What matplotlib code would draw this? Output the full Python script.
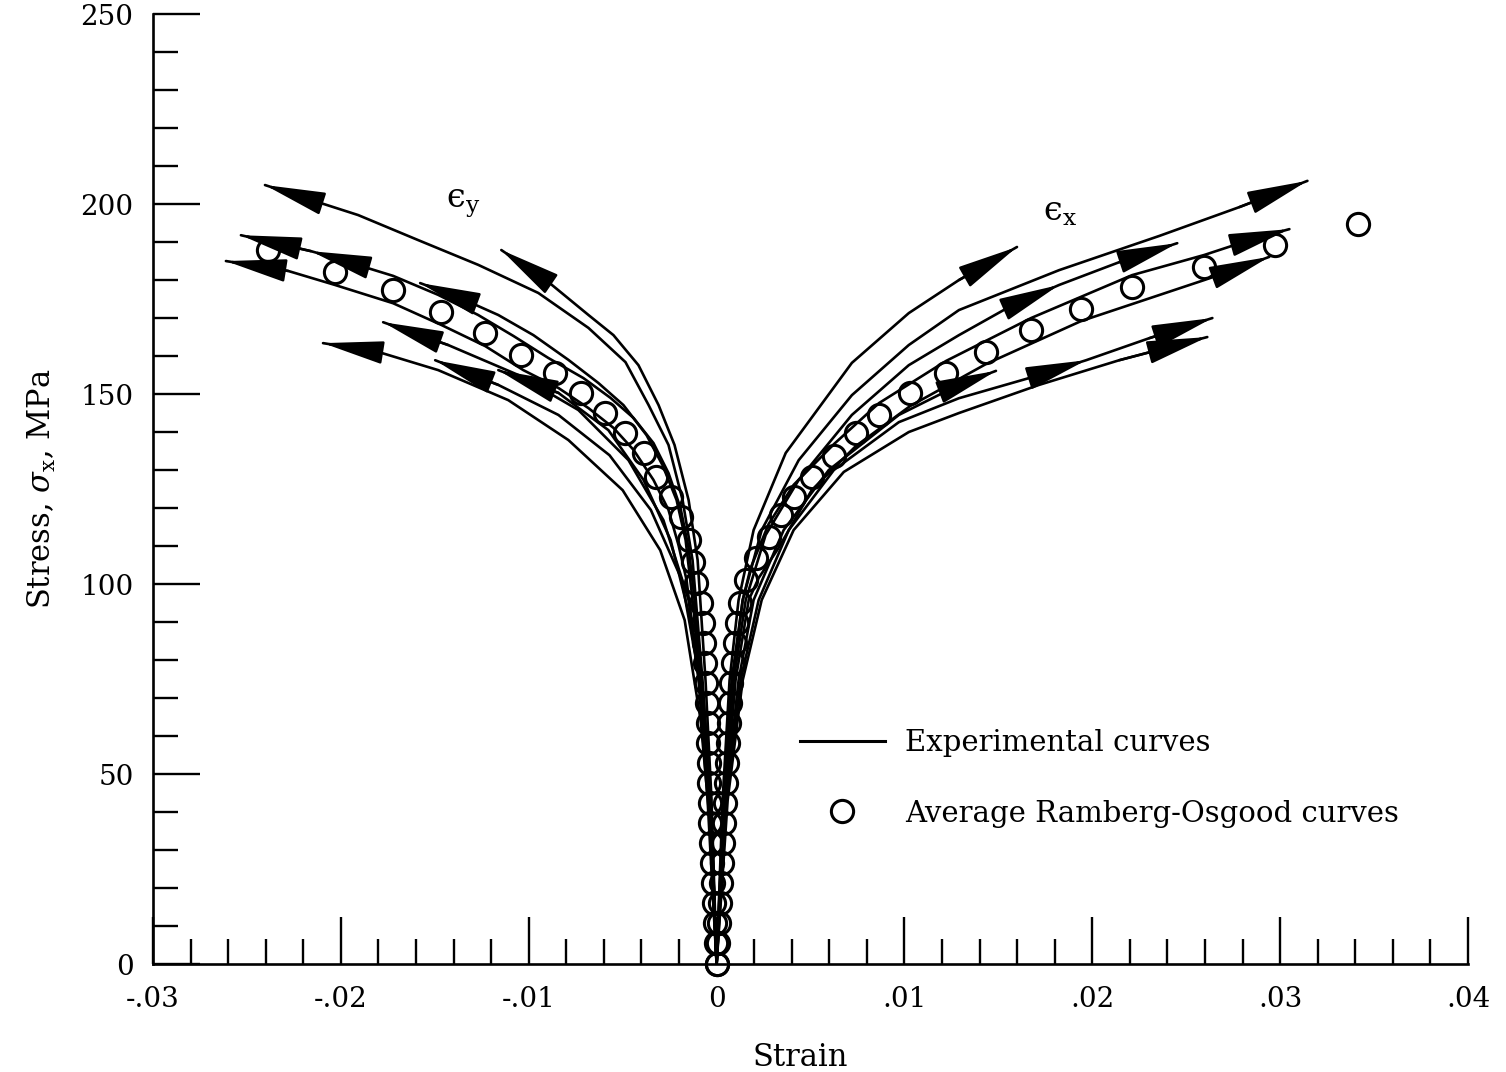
import numpy as np
import matplotlib
matplotlib.use("Agg")
import matplotlib.pyplot as plt
from matplotlib.lines import Line2D
from matplotlib.ticker import MultipleLocator

plt.rcParams["font.family"] = ["DejaVu Serif", "DejaVu Sans"]
plt.rcParams["mathtext.fontset"] = "dejavuserif"

# ---- Ramberg-Osgood average curves (circles) ----
ro_x_strain = [0, 0.00005, 0.00011, 0.00016, 0.00021, 0.00027, 0.00032, 0.00037, 0.00043, 0.00048,
               0.00053, 0.00059, 0.00064, 0.00069, 0.00075, 0.00085, 0.00096, 0.00107, 0.00123, 0.00155,
               0.00208, 0.00277, 0.00341, 0.00410, 0.00506, 0.00624, 0.00741, 0.00864, 0.01029, 0.01221,
               0.01434, 0.01674, 0.01940, 0.02212, 0.02596, 0.02974, 0.03412]
ro_x_stress = [0, 5.5, 10.8, 16.1, 21.3, 26.6, 31.8, 37.1, 42.4, 47.6,
               52.9, 58.2, 63.4, 68.7, 73.9, 79.2, 84.5, 89.7, 95.0, 101.1,
               106.8, 112.4, 118.2, 122.9, 128.2, 133.7, 139.7, 144.5, 150.3, 155.5,
               161.1, 166.8, 172.4, 178.2, 183.4, 189.2, 194.7]

ro_y_strain = [0, -0.00005, -0.00011, -0.00016, -0.00021, -0.00027, -0.00032, -0.00035, -0.00037, -0.00040,
               -0.00043, -0.00045, -0.00048, -0.00053, -0.00059, -0.00064, -0.00069, -0.00075, -0.00085, -0.00107,
               -0.00128, -0.00149, -0.00192, -0.00245, -0.00320, -0.00389, -0.00485, -0.00592, -0.00720, -0.00858,
               -0.01039, -0.01231, -0.01466, -0.01722, -0.02031, -0.02388]
ro_y_stress = [0, 5.5, 10.8, 16.1, 21.3, 26.6, 31.8, 37.1, 42.4, 47.6,
               52.9, 58.2, 63.4, 68.7, 73.9, 79.2, 84.5, 89.7, 95.0, 100.3,
               105.8, 111.6, 117.6, 122.9, 128.2, 134.5, 139.7, 145.0, 150.3, 155.5,
               160.3, 166.1, 171.6, 177.4, 182.1, 187.9]

# ---- experimental curves, eps_x (right) ----
ex1_strain = [0, 0.00032, 0.00069, 0.00117, 0.00197, 0.00368, 0.00720, 0.01023, 0.01290, 0.01599]
ex1_stress = [0, 43.2, 74.7, 95.8, 114.2, 134.5, 158.2, 171.3, 180.0, 188.7]
ex2_strain = [0, 0.00037, 0.00080, 0.00139, 0.00240, 0.00437, 0.00720, 0.01023, 0.01290, 0.01823, 0.02356, 0.02783, 0.03145]
ex2_stress = [0, 43.2, 74.7, 95.8, 114.2, 132.6, 149.7, 162.9, 172.1, 182.6, 191.6, 199.2, 206.1]
ex3_strain = [0, 0.00043, 0.00091, 0.00155, 0.00261, 0.00437, 0.00720, 0.01023, 0.01290, 0.01557, 0.01823, 0.02143, 0.02452]
ex3_stress = [0, 43.2, 74.7, 95.8, 112.9, 127.4, 144.5, 157.6, 165.5, 172.9, 178.7, 184.7, 189.7]
ex4_strain = [0, 0.00037, 0.00085, 0.00139, 0.00181, 0.00277, 0.00410, 0.00624, 0.00864, 0.01221, 0.01674, 0.02212, 0.02596, 0.02836, 0.03049]
ex4_stress = [0, 43.2, 74.7, 95.8, 104.2, 115.8, 126.1, 136.8, 147.6, 158.7, 170.0, 181.3, 186.6, 190.5, 193.4]
ex5_strain = [0, 0.00048, 0.00101, 0.00171, 0.00224, 0.00330, 0.00506, 0.00741, 0.01029, 0.01434, 0.01940, 0.02596, 0.02783, 0.02942]
ex5_stress = [0, 43.2, 74.7, 95.8, 101.6, 109.5, 124.7, 136.3, 146.8, 157.9, 169.2, 180.0, 183.2, 186.1]
ex6_strain = [0, 0.00048, 0.00117, 0.00197, 0.00357, 0.00597, 0.00970, 0.01290, 0.01487]
ex6_stress = [0, 43.2, 74.7, 95.8, 114.2, 130.0, 144.5, 152.4, 156.1]
ex7_strain = [0, 0.00053, 0.00128, 0.00224, 0.00384, 0.00624, 0.00970, 0.01290, 0.01663, 0.01967, 0.02303, 0.02639]
ex7_stress = [0, 43.2, 74.7, 95.8, 114.2, 130.0, 142.6, 148.9, 154.2, 158.9, 164.7, 170.0]
ex8_strain = [0, 0.00059, 0.00139, 0.00240, 0.00410, 0.00677, 0.01023, 0.01290, 0.01716, 0.02143, 0.02612]
ex8_stress = [0, 43.2, 74.7, 95.8, 114.2, 129.5, 140.0, 145.0, 152.4, 158.9, 165.0]

# ---- experimental curves, eps_y (left) ----
ey1_strain = [0, -0.00027, -0.00059, -0.00101, -0.00149, -0.00224, -0.00309, -0.00416, -0.00549, -0.00682, -0.00896, -0.01146]
ey1_stress = [0, 43.2, 74.7, 106.3, 122.1, 136.6, 147.1, 157.6, 165.5, 170.8, 179.5, 187.9]
ey2_strain = [0, -0.00032, -0.00075, -0.00128, -0.00181, -0.00256, -0.00362, -0.00485, -0.00682, -0.00949, -0.01269, -0.01588, -0.01908, -0.02122, -0.02404]
ey2_stress = [0, 43.2, 74.7, 106.3, 122.1, 136.6, 147.1, 158.4, 167.4, 176.6, 184.0, 190.5, 197.1, 200.5, 205.0]
ey3_strain = [0, -0.00037, -0.00080, -0.00117, -0.00149, -0.00192, -0.00256, -0.00336, -0.00442, -0.00565, -0.00709, -0.00896, -0.01082, -0.01269, -0.01482, -0.01722, -0.02031, -0.02159, -0.02532]
ey3_stress = [0, 43.2, 74.7, 95.8, 109.5, 120.0, 129.2, 137.1, 143.7, 149.0, 154.2, 159.5, 165.3, 170.8, 176.1, 181.1, 185.8, 187.6, 191.8]
ey4_strain = [0, -0.00043, -0.00085, -0.00128, -0.00165, -0.00213, -0.00288, -0.00373, -0.00496, -0.00629, -0.00789, -0.00975, -0.01162, -0.01375, -0.01578]
ey4_stress = [0, 43.2, 74.7, 95.8, 111.6, 122.1, 131.3, 139.2, 147.1, 152.9, 159.0, 165.5, 170.8, 175.5, 179.2]
ey5_strain = [0, -0.00048, -0.00096, -0.00160, -0.00203, -0.00256, -0.00336, -0.00442, -0.00549, -0.00682, -0.00842, -0.01029, -0.01231, -0.01466, -0.01722, -0.02031, -0.02281, -0.02612]
ey5_stress = [0, 43.2, 74.7, 101.1, 110.3, 119.5, 127.4, 135.3, 141.1, 146.3, 151.6, 156.3, 162.6, 168.2, 173.9, 178.7, 182.4, 185.0]
ey6_strain = [0, -0.00032, -0.00069, -0.00149, -0.00283, -0.00469, -0.00736, -0.01055, -0.01429, -0.01775]
ey6_stress = [0, 43.2, 69.5, 95.8, 116.8, 132.6, 145.8, 155.0, 162.9, 168.9]
ey7_strain = [0, -0.00037, -0.00085, -0.00170, -0.00300, -0.00500, -0.00789, -0.01109, -0.01482, -0.01802, -0.02095]
ey7_stress = [0, 37.9, 64.2, 90.5, 108.9, 124.7, 137.9, 148.4, 156.3, 161.1, 163.4]
ey8_strain = [0, -0.00032, -0.00090, -0.00185, -0.00350, -0.00570, -0.00842, -0.01162, -0.01498]
ey8_stress = [0, 43.2, 74.7, 101.1, 119.5, 133.9, 144.5, 152.4, 158.9]
ey9_strain = [0, -0.00027, -0.00064, -0.00139, -0.00245, -0.00389, -0.00576, -0.00842, -0.01162]
ey9_stress = [0, 37.9, 64.2, 90.5, 111.6, 127.4, 140.5, 150.3, 156.3]

# curve, index of extra arrow in the middle (None = only at the end)
curves = [
    (ex1_strain, ex1_stress, None), (ex2_strain, ex2_stress, None),
    (ex3_strain, ex3_stress, 10), (ex4_strain, ex4_stress, None),
    (ex5_strain, ex5_stress, None), (ex6_strain, ex6_stress, None),
    (ex7_strain, ex7_stress, 9), (ex8_strain, ex8_stress, None),
    (ey1_strain, ey1_stress, None), (ey2_strain, ey2_stress, None),
    (ey3_strain, ey3_stress, 17), (ey4_strain, ey4_stress, None),
    (ey5_strain, ey5_stress, None), (ey6_strain, ey6_stress, None),
    (ey7_strain, ey7_stress, None), (ey8_strain, ey8_stress, None),
    (ey9_strain, ey9_stress, None),
]

x_ticks = [-0.03, -0.02, -0.01, 0, 0.01, 0.02, 0.03, 0.04]
x_tick_labels = ["-.03", "-.02", "-.01", "0", ".01", ".02", ".03", ".04"]
y_ticks = [0, 50, 100, 150, 200, 250]


def arrow_at(ax, xs, ys, i):
    ax.annotate("", xy=(xs[i], ys[i]), xytext=(xs[i - 1], ys[i - 1]),
                arrowprops=dict(arrowstyle="-|>,head_length=1.9,head_width=0.36",
                                color="black", lw=1.8, shrinkA=0, shrinkB=0,
                                mutation_scale=20))


fig = plt.figure(figsize=(15.06, 10.72), dpi=100, facecolor="white")
ax = fig.add_axes([0.1016, 0.1007, 0.8732, 0.8862])

for xs, ys, mid in curves:
    ax.plot(xs, ys, color="black", lw=1.9, solid_capstyle="round")
    arrow_at(ax, xs, ys, len(xs) - 1)
    if mid is not None:
        arrow_at(ax, xs, ys, mid)

ax.plot(ro_x_strain, ro_x_stress, ls="none", marker="o", ms=16, mfc="none",
        mec="black", mew=2.2, clip_on=False)
ax.plot(ro_y_strain, ro_y_stress, ls="none", marker="o", ms=16, mfc="none",
        mec="black", mew=2.2, clip_on=False)

ax.text(-0.0135, 200, "\u03f5$_\\mathrm{y}$", fontsize=24, ha="center", va="center")
ax.text(0.0183, 198, "\u03f5$_\\mathrm{x}$", fontsize=24, ha="center", va="center")

ax.set_xlim(-0.03, 0.04)
ax.set_ylim(0, 250)
ax.set_xticks(x_ticks)
ax.set_xticklabels(x_tick_labels)
ax.set_yticks(y_ticks)
ax.xaxis.set_minor_locator(MultipleLocator(0.002))
ax.yaxis.set_minor_locator(MultipleLocator(10))
ax.tick_params(which="major", direction="in", length=34, width=1.7, labelsize=20)
ax.tick_params(which="minor", direction="in", length=18, width=1.7)
ax.tick_params(axis="x", which="major", pad=16)
ax.tick_params(axis="y", which="major", pad=14)
for s in ["top", "right"]:
    ax.spines[s].set_visible(False)
for s in ["left", "bottom"]:
    ax.spines[s].set_linewidth(1.9)

ax.set_xlabel("Strain", fontsize=22, labelpad=14)
ax.xaxis.set_label_coords(0.492, -0.082)
ax.set_ylabel(r"Stress, $\sigma_\mathrm{x}$, MPa", fontsize=22, labelpad=16)

handles = [Line2D([], [], color="black", lw=2.2),
           Line2D([], [], ls="none", marker="o", ms=16, mfc="none", mec="black", mew=2.2)]
ax.legend(handles, ["Experimental curves", "Average Ramberg-Osgood curves"],
          loc="upper left", bbox_to_anchor=(0.492, 0.247), frameon=False,
          fontsize=21, handlelength=2.9, handletextpad=0.7, labelspacing=1.45,
          borderpad=0, borderaxespad=0)

fig.savefig("out.png", dpi=100, facecolor="white")
